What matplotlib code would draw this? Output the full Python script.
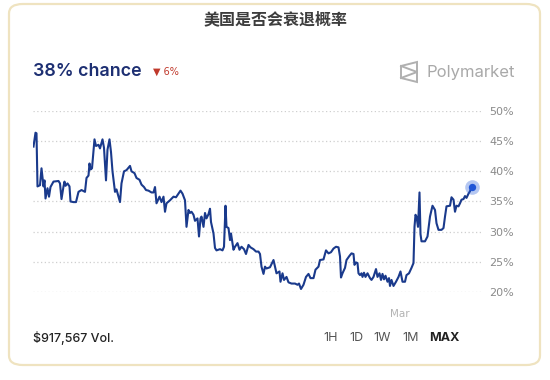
import matplotlib.pyplot as plt
from matplotlib.patches import FancyBboxPatch, Polygon
from matplotlib.lines import Line2D

# days since the start of the chart, and the "yes" price in percent
days = [
    0.1, 0.5, 0.7, 0.9, 1.4, 1.7, 2.1, 2.3, 2.5, 2.9, 3.2, 3.5, 4.1, 5.1, 5.4,
    5.7, 6.1, 6.3, 6.5, 6.9, 7.3, 7.5, 8.1, 8.6, 9.1, 9.7, 10.4, 10.7, 11.1,
    11.3, 11.5, 11.8, 12.3, 12.6, 13.1, 13.4, 13.9, 14.2, 14.6, 14.9, 15.3,
    15.6, 15.9, 16.4, 16.7, 17.4, 17.7, 18.2, 18.7, 19.4, 19.7, 20.3, 20.7,
    21.3, 21.7, 22.2, 22.6, 23.1, 23.7, 24.1, 24.4, 24.7, 25.3, 25.7, 26.1,
    26.4, 26.7, 27.4, 28.1, 28.6, 29.1, 29.5, 29.9, 30.4, 30.7, 31.1, 31.4,
    31.7, 32.1, 32.4, 32.9, 33.2, 33.5, 33.7, 34.1, 34.4, 34.7, 35.1, 35.4,
    35.6, 36.1, 36.4, 36.7, 37.4, 37.9, 38.2, 38.5, 38.7, 39.1, 39.4, 39.6,
    40.1, 40.4, 40.9, 41.3, 41.7, 42.2, 42.6, 43.1, 43.5, 44.1, 44.6, 45.1,
    45.4, 45.7, 46.1, 46.4, 46.7, 47.4, 48.1, 48.4, 48.7, 49.3, 49.5, 49.9,
    50.2, 50.7, 51.1, 51.7, 52.4, 52.9, 53.2, 53.6, 54.1, 54.6, 55.1, 55.5,
    56.1, 56.5, 57.1, 57.4, 58.1, 58.6, 59.1, 59.6, 60.1, 60.6, 61.1, 61.4,
    61.6, 61.9, 62.4, 62.7, 63.3, 63.7, 64.1, 64.3, 64.6, 64.9, 65.1, 65.4,
    65.7, 65.9, 66.2, 66.5, 66.9, 67.4, 67.7, 68.1, 68.6, 68.9, 69.3, 69.6,
    69.9, 70.2, 70.5, 70.9, 71.2, 71.4, 71.7, 72.1, 72.6, 73.1, 73.5, 73.9,
    74.4, 74.7, 75.2, 75.7, 76.1, 76.3, 76.5, 76.7, 77.0, 77.3, 77.5, 77.7,
    78.4, 78.9, 79.4, 79.9, 80.4, 80.7, 81.1, 81.7, 82.1, 82.4, 82.7, 83.4,
    83.7, 84.1, 84.4, 84.7, 85.1, 85.4, 85.7, 86.1, 86.4, 86.7, 87.1, 87.4,
    87.7,
]
chance = [
    44.1, 46.4, 46.3, 37.5, 37.7, 40.5, 37.5, 38.5, 35.5, 37.2, 35.8, 37.4,
    38.3, 38.4, 38.0, 35.4, 37.5, 38.3, 37.6, 38.0, 37.5, 35.0, 34.9, 34.9,
    36.6, 36.9, 36.6, 38.9, 39.3, 41.3, 40.3, 40.5, 45.3, 44.2, 44.4, 43.8,
    45.3, 43.9, 38.5, 43.6, 45.3, 43.2, 40.0, 36.6, 37.0, 34.9, 38.0, 40.0,
    40.2, 40.9, 40.0, 39.7, 38.9, 38.6, 37.8, 37.4, 36.9, 36.8, 36.5, 36.5,
    37.4, 34.7, 35.8, 34.9, 35.8, 33.3, 34.7, 35.2, 35.8, 35.7, 36.3, 36.8,
    36.3, 35.2, 30.8, 33.6, 33.1, 33.3, 32.8, 31.8, 32.2, 29.2, 32.2, 32.5,
    30.8, 33.1, 32.2, 32.9, 33.8, 31.6, 29.7, 27.3, 26.9, 27.1, 26.9, 27.5,
    34.3, 30.8, 30.6, 28.6, 29.7, 27.0, 27.5, 28.1, 27.0, 27.5, 27.1, 26.3,
    27.8, 27.4, 27.1, 26.7, 26.7, 26.3, 24.2, 23.0, 24.2, 23.9, 24.1, 25.3,
    24.2, 23.1, 23.4, 21.7, 23.1, 22.0, 22.5, 21.6, 21.4, 21.4, 21.2, 21.4,
    20.5, 21.2, 22.5, 23.0, 22.3, 22.3, 23.7, 24.2, 25.3, 25.4, 26.9, 26.4,
    26.6, 27.2, 27.5, 27.4, 25.9, 22.4, 23.1, 24.0, 25.3, 26.0, 26.4, 26.3,
    24.5, 24.9, 24.8, 23.1, 22.8, 23.1, 22.5, 23.2, 22.5, 23.1, 22.3, 22.0,
    22.5, 23.8, 22.5, 23.1, 22.0, 23.0, 22.1, 22.7, 21.7, 22.3, 21.0, 22.0,
    21.0, 21.7, 22.5, 23.4, 21.7, 21.7, 22.8, 23.1, 24.0, 24.8, 30.8, 32.8,
    32.5, 30.8, 36.5, 29.6, 28.4, 28.4, 29.2, 32.5, 34.3, 33.6, 31.4, 30.3,
    30.3, 30.6, 32.5, 34.2, 34.3, 35.7, 35.3, 33.3, 34.3, 34.2, 34.7, 35.3,
    35.4, 35.9, 35.6, 36.3, 36.7, 37.4,
]
y_ticks = [20, 25, 30, 35, 40, 45, 50]
month_day = [73.4]
month_label = ["Mar"]
ranges = ["1H", "1D", "1W", "1M", "MAX"]

title = "美国是否会衰退概率"
headline = "38% chance"
change = "▼ 6%"
volume = "$917,567 Vol."


def main():
    W, H = 550, 380
    fig = plt.figure(figsize=(W / 100, H / 100), dpi=100)
    fig.patch.set_facecolor("white")

    def px(x, y):
        return x / W, 1 - y / H

    # card
    card = FancyBboxPatch(
        (9 / W, 1 - 365 / H), 531 / W, 361 / H,
        boxstyle="round,pad=0,rounding_size=0.025",
        transform=fig.transFigure, facecolor="white",
        edgecolor="#efe3c0", linewidth=1.6, zorder=-10,
    )
    fig.patches.append(card)

    fig.text(*px(276, 19), title, ha="center", va="center", fontsize=11.5,
             fontweight="bold", color="#3d3d3d",
             family=["Noto Sans CJK SC", "DejaVu Sans"])
    fig.text(*px(33, 72), headline, ha="left", va="center", fontsize=12.8,
             fontweight="semibold", color="#1d2f72", family="Inter")
    fig.text(*px(153, 72), change, ha="left", va="center", fontsize=7,
             color="#c0392b", family="DejaVu Sans")
    fig.text(*px(426, 73), "Polymarket", ha="left", va="center", fontsize=12,
             color="#a9a9a9", family="Inter")

    # polymarket logo, rough outline
    logo = Polygon([px(401, 66), px(417, 62), px(417, 82), px(401, 78)],
                   closed=True, fill=False, edgecolor="#b0b0b0", lw=1.4,
                   transform=fig.transFigure)
    fig.patches.append(logo)
    fig.lines.append(Line2D([401 / W, 417 / W, 401 / W],
                            [1 - 66 / H, 1 - 72 / H, 1 - 78 / H],
                            color="#b0b0b0", lw=1.4, transform=fig.transFigure))

    ax = fig.add_axes([33 / W, 1 - 292 / H, 449 / W, 181 / H])
    ax.set_facecolor("none")
    ax.plot(days, chance, color="#1a3a8c", lw=1.5, solid_joinstyle="round")
    ax.scatter([days[-1]], [chance[-1]], s=110, color="#2b5fd9", alpha=0.35,
               lw=0, zorder=4, clip_on=False)
    ax.scatter([days[-1]], [chance[-1]], s=28, color="#1f55d6", lw=0,
               zorder=5, clip_on=False)

    ax.set_xlim(0, 89.8)
    ax.set_ylim(20, 50)
    ax.set_yticks(y_ticks)
    ax.set_yticklabels([f"{t}%" for t in y_ticks])
    ax.yaxis.tick_right()
    ax.tick_params(axis="y", length=0, pad=5, labelsize=8, labelcolor="#8a8a8a")
    ax.set_xticks(month_day)
    ax.set_xticklabels(month_label)
    ax.tick_params(axis="x", length=0, pad=12, labelsize=7.5,
                   labelcolor="#b3b3b3")
    for t in y_ticks:
        ax.axhline(t, color="#cfcfcf", lw=0.9, ls=(0, (1, 2)), zorder=0)
    for s in ax.spines.values():
        s.set_visible(False)

    fig.text(*px(33, 338), volume, ha="left", va="center", fontsize=9,
             fontweight="medium", color="#222222", family="Inter")
    xs = [331, 356, 382, 411, 444]
    for x, r in zip(xs, ranges):
        bold = r == "MAX"
        fig.text(*px(x, 338), r, ha="center", va="center", fontsize=9,
                 fontweight="bold" if bold else "normal",
                 color="#222222" if bold else "#555555", family="Inter")

    fig.savefig("out.png", dpi=100)


if __name__ == "__main__":
    main()
